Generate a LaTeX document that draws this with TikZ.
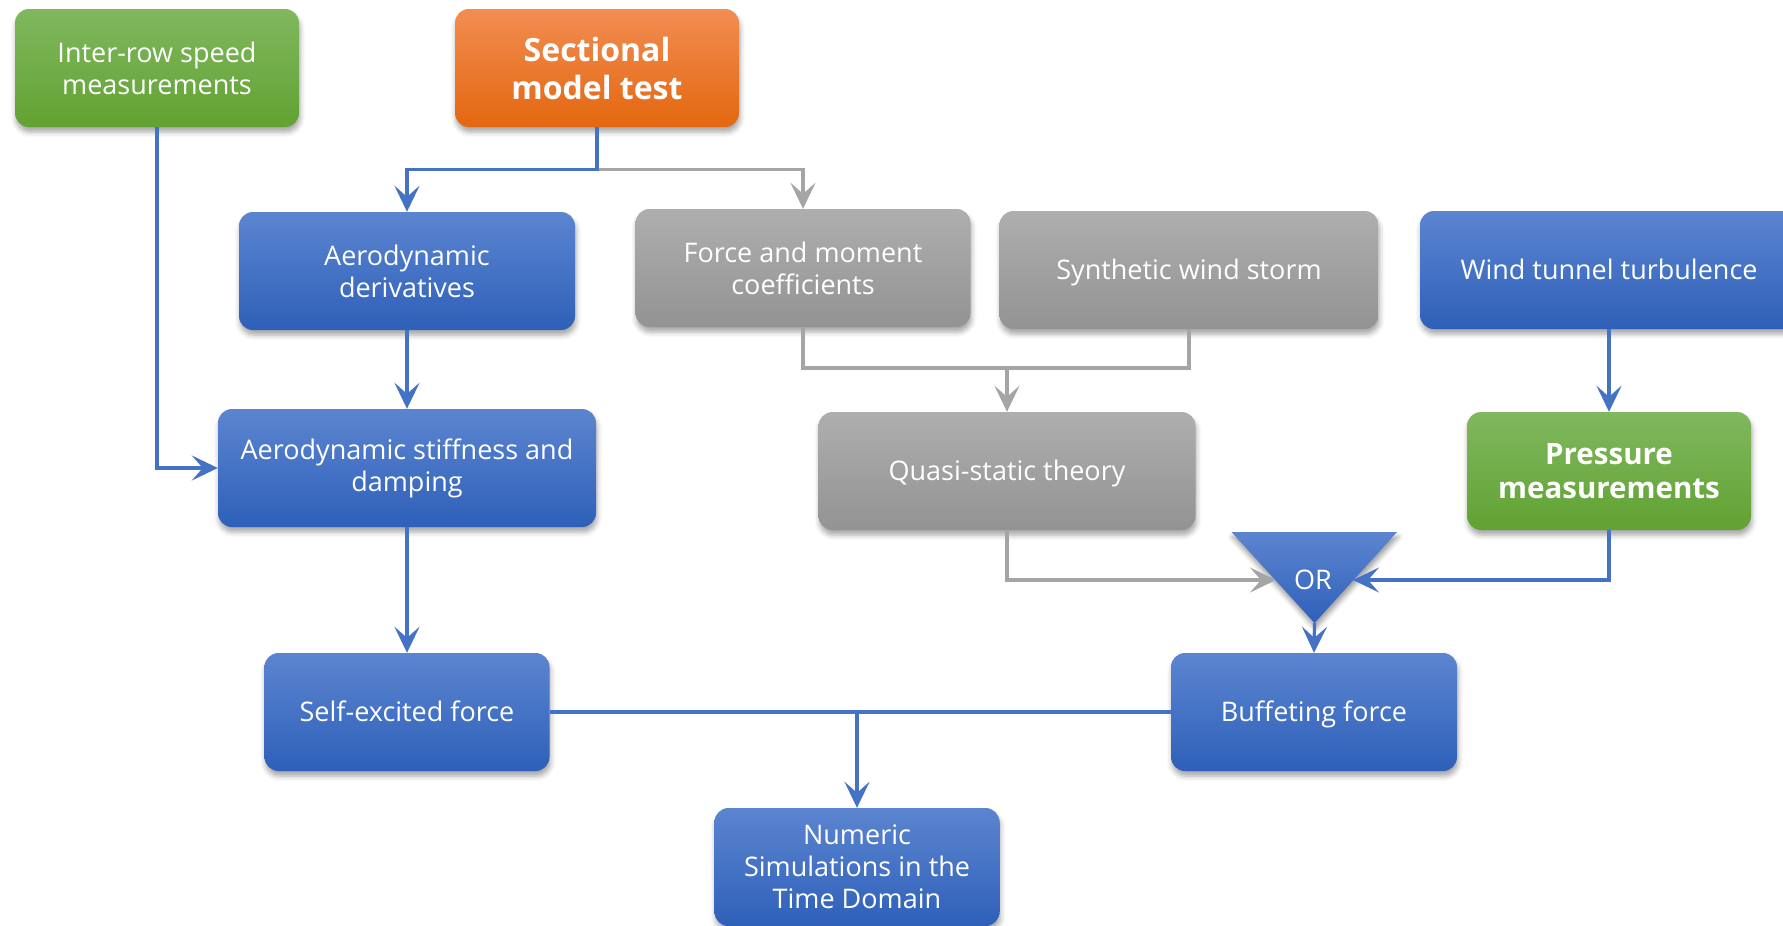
\documentclass[tikz,border=0pt]{standalone}
\usepackage{fontspec}
\setmainfont{Open Sans}
\usetikzlibrary{arrows.meta,shadows.blur}
\definecolor{bTop}{HTML}{5C85D0}
\definecolor{bBot}{HTML}{2E60B9}
\definecolor{gTop}{HTML}{80B85E}
\definecolor{gBot}{HTML}{61A232}
\definecolor{oTop}{HTML}{F28D52}
\definecolor{oBot}{HTML}{E3670F}
\definecolor{yTop}{HTML}{AEAEAE}
\definecolor{yBot}{HTML}{939393}
\definecolor{lblue}{HTML}{4472C4}
\definecolor{lgray}{HTML}{A5A5A5}
\tikzset{
  box/.style={rounded corners=14pt, minimum height=118pt, align=center, text=white,
    inner sep=0pt, font=\fontsize{27}{32}\selectfont,
    blur shadow={shadow xshift=1pt, shadow yshift=-5pt, shadow blur radius=5pt, shadow opacity=35}},
  bluebox/.style={box, top color=bTop, bottom color=bBot},
  greenbox/.style={box, top color=gTop, bottom color=gBot},
  orangebox/.style={box, top color=oTop, bottom color=oBot},
  graybox/.style={box, top color=yTop, bottom color=yBot},
  single/.style={text height=19pt, text depth=1pt},
  bl/.style={draw=lblue, line width=3.2pt},
  gl/.style={draw=lgray, line width=3.2pt},
  tip/.style={-{Stealth[length=26pt,width=25pt,inset=11pt]}}
}
\begin{document}
\begin{tikzpicture}[x=1pt,y=-1pt]
\useasboundingbox (0,0) rectangle (1783,926);
% boxes
\node[greenbox, minimum width=284pt] (inter) at (157,68) {Inter-row speed\\measurements};
\node[orangebox, minimum width=284pt, font=\bfseries\fontsize{32}{38}\selectfont] (sect) at (597,68) {Sectional\\model test};
\node[bluebox, minimum width=336pt] (aderiv) at (407,271) {Aerodynamic\\derivatives};
\node[graybox, minimum width=335pt] (force) at (803,268) {Force and moment\\coefficients};
\node[graybox, single, minimum width=379pt] (synth) at (1189,270) {Synthetic wind storm};
\node[bluebox, single, minimum width=378pt] (wind) at (1609,270) {Wind tunnel turbulence};
\node[bluebox, minimum width=378pt] (astiff) at (407,468) {Aerodynamic stiffness and\\damping};
\node[graybox, single, minimum width=377pt] (quasi) at (1007,471) {Quasi-static theory};
\node[greenbox, minimum width=284pt, font=\bfseries\fontsize{29.5}{34}\selectfont] (press) at (1609,471) {Pressure\\measurements};
\node[bluebox, single, minimum width=285pt] (self) at (407,712) {Self-excited force};
\node[bluebox, single, minimum width=286pt] (buff) at (1314,712) {Buffeting force};
\node[bluebox, minimum width=285pt] (num) at (857,867) {Numeric\\Simulations in the\\Time Domain};
% OR triangle
\path[top color=bTop, bottom color=bBot, blur shadow={shadow xshift=1pt, shadow yshift=-5pt, shadow blur radius=5pt, shadow opacity=40}]
  (1231.5,532) -- (1397,532) -- (1314.5,623) -- cycle;
\node[text=white, font=\fontsize{27}{32}\selectfont, inner sep=0pt] (ortxt) at (1313,580) {OR};
\coordinate (orL) at (1276,580);
\coordinate (orR) at (1353,580);
\coordinate (orB) at (1314.5,623);
% junctions
\coordinate (sj) at (597,169.5);
\coordinate (fj) at (1007,368);
\coordinate (nj) at (857,712);
% connectors
\draw[gl,tip] (sj) -| (force.north);
\draw[bl,tip] (sect.south) -- (sj) -| (aderiv.north);
\draw[bl,tip] (inter.south) |- (astiff.west);
\draw[bl,tip] (aderiv.south) -- (astiff.north);
\draw[gl] (force.south) -- (force.south |- fj) -- (synth.south |- fj) -- (synth.south);
\draw[gl,tip] (fj) -- (quasi.north);
\draw[bl,tip] (wind.south) -- (press.north);
\draw[gl,tip] (quasi.south) |- (orL);
\draw[bl,tip] (press.south) |- (orR);
\draw[bl,tip] (orB) -- (buff.north);
\draw[bl,tip] (astiff.south) -- (self.north);
\draw[bl] (self.east) -- (buff.west);
\draw[bl,tip] (nj) -- (num.north);
\end{tikzpicture}
\end{document}
